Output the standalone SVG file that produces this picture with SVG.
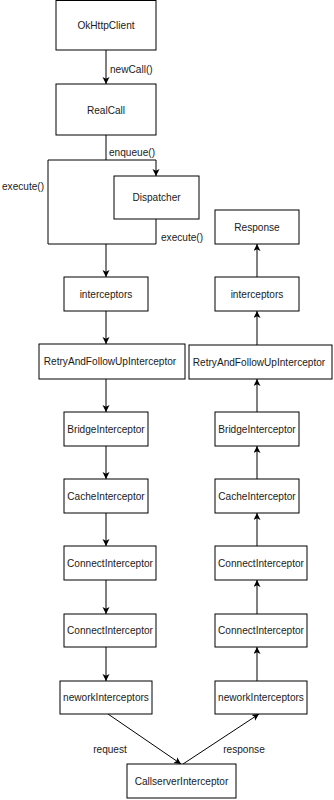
<svg xmlns="http://www.w3.org/2000/svg" width="334" height="800" viewBox="0 0 334 800">
  <defs>
    <marker id="arrow" markerUnits="userSpaceOnUse" markerWidth="8" markerHeight="8" refX="7" refY="3.5" orient="auto">
      <path d="M0,0 L7,3.5 L0,7 L1.8,3.5 z" fill="#000"/>
    </marker>
    <style>
      rect { fill: #fff; stroke: #000; stroke-width: 1; }
      text { font-family: "Liberation Sans", Arial, sans-serif; font-size: 10.1px; fill: #1a1a1a; }
      .c { text-anchor: middle; dominant-baseline: central; }
      .lbl { dominant-baseline: central; }
      .edge { fill: none; stroke: #000; stroke-width: 1; }
      .arr { marker-end: url(#arrow); }
    </style>
  </defs>
  <rect x="0" y="0" width="334" height="800" style="fill:#fff;stroke:none"/>

  <!-- connectors -->
  <g id="edges">
    <line class="edge arr" x1="106" y1="50" x2="106" y2="84"/>
    <polyline class="edge" points="106,135 106,160"/>
    <polyline class="edge" points="48,160 156,160"/>
    <line class="edge arr" x1="156" y1="160" x2="156" y2="176"/>
    <polyline class="edge" points="48,160 48,244 156,244 156,219"/>
    <line class="edge arr" x1="106" y1="244" x2="106" y2="277"/>

    <!-- request chain, downward -->
    <line class="edge arr" x1="106" y1="311" x2="106" y2="344"/>
    <line class="edge arr" x1="106" y1="379" x2="106" y2="412"/>
    <line class="edge arr" x1="106" y1="446" x2="106" y2="479"/>
    <line class="edge arr" x1="106" y1="513" x2="106" y2="546"/>
    <line class="edge arr" x1="106" y1="580" x2="106" y2="614"/>
    <line class="edge arr" x1="106" y1="647" x2="106" y2="681"/>

    <!-- response chain, upward -->
    <line class="edge arr" x1="257" y1="681" x2="257" y2="647"/>
    <line class="edge arr" x1="257" y1="614" x2="257" y2="580"/>
    <line class="edge arr" x1="257" y1="546" x2="257" y2="513"/>
    <line class="edge arr" x1="257" y1="479" x2="257" y2="446"/>
    <line class="edge arr" x1="257" y1="412" x2="257" y2="379"/>
    <line class="edge arr" x1="257" y1="345" x2="257" y2="311"/>
    <line class="edge arr" x1="257" y1="277" x2="257" y2="244"/>

    <!-- to and from the server interceptor -->
    <line class="edge arr" x1="108" y1="714" x2="181" y2="764"/>
    <line class="edge arr" x1="183" y1="764" x2="259" y2="714"/>

    <text class="lbl" x="110" y="69">newCall()</text>
    <text class="lbl" x="109" y="152">enqueue()</text>
    <text class="lbl" x="2" y="186">execute()</text>
    <text class="lbl" x="161" y="237">execute()</text>
    <text class="c" x="110" y="749">request</text>
    <text class="c" x="244" y="749">response</text>
  </g>

  <!-- left column -->
  <g id="okhttpclient"><rect x="56" y="0.5" width="100" height="49.5"/><text class="c" x="106" y="25">OkHttpClient</text></g>
  <g id="realcall"><rect x="56" y="84" width="100" height="51"/><text class="c" x="106" y="110">RealCall</text></g>
  <g id="dispatcher"><rect x="114" y="176" width="85" height="43"/><text class="c" x="156.5" y="197">Dispatcher</text></g>
  <g id="interceptors-req"><rect x="64" y="277" width="84" height="34"/><text class="c" x="106" y="294">interceptors</text></g>
  <g id="retry-req"><rect x="39" y="344" width="146" height="35"/><text class="c" x="110" y="361.5">RetryAndFollowUpInterceptor</text></g>
  <g id="bridge-req"><rect x="64" y="412" width="84" height="34"/><text class="c" x="106" y="429">BridgeInterceptor</text></g>
  <g id="cache-req"><rect x="64" y="479" width="84" height="34"/><text class="c" x="106" y="496">CacheInterceptor</text></g>
  <g id="connect1-req"><rect x="64" y="546" width="92" height="34"/><text class="c" x="110" y="563">ConnectInterceptor</text></g>
  <g id="connect2-req"><rect x="64" y="614" width="92" height="33"/><text class="c" x="110" y="630.5">ConnectInterceptor</text></g>
  <g id="network-req"><rect x="60" y="681" width="92" height="33"/><text class="c" x="106" y="697.5">neworkInterceptors</text></g>

  <!-- bottom -->
  <g id="callserver"><rect x="127" y="764" width="109" height="34"/><text class="c" x="181.5" y="781">CallserverInterceptor</text></g>

  <!-- right column -->
  <g id="response"><rect x="215" y="210" width="84" height="34"/><text class="c" x="257" y="227">Response</text></g>
  <g id="interceptors-resp"><rect x="215" y="277" width="84" height="34"/><text class="c" x="257" y="294">interceptors</text></g>
  <g id="retry-resp"><rect x="189" y="345" width="143" height="34"/><text class="c" x="259" y="362">RetryAndFollowUpInterceptor</text></g>
  <g id="bridge-resp"><rect x="215" y="412" width="84" height="34"/><text class="c" x="257" y="429">BridgeInterceptor</text></g>
  <g id="cache-resp"><rect x="215" y="479" width="84" height="34"/><text class="c" x="257" y="496">CacheInterceptor</text></g>
  <g id="connect1-resp"><rect x="215" y="546" width="92" height="34"/><text class="c" x="261" y="563">ConnectInterceptor</text></g>
  <g id="connect2-resp"><rect x="215" y="614" width="92" height="33"/><text class="c" x="261" y="630.5">ConnectInterceptor</text></g>
  <g id="network-resp"><rect x="215" y="681" width="92" height="33"/><text class="c" x="261" y="697.5">neworkInterceptors</text></g>
</svg>
